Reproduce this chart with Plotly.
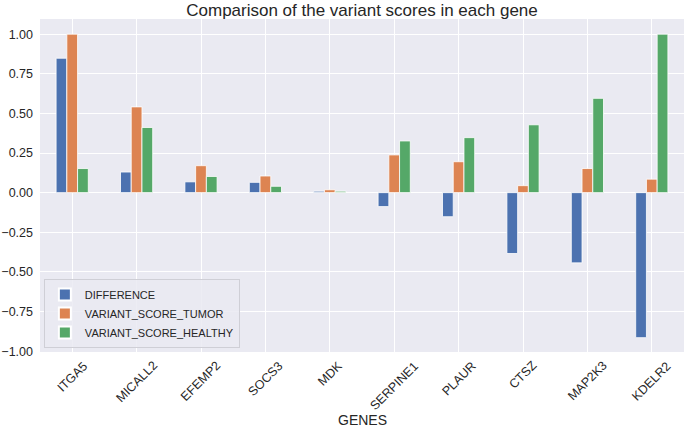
import plotly.graph_objects as go

genes = ["ITGA5", "MICALL2", "EFEMP2", "SOCS3", "MDK", "SERPINE1", "PLAUR", "CTSZ", "MAP2K3", "KDELR2"]
difference = [0.848, 0.130, 0.068, 0.065, 0.009, -0.088, -0.152, -0.384, -0.443, -0.915]
tumor = [1.000, 0.541, 0.170, 0.105, 0.018, 0.238, 0.195, 0.044, 0.152, 0.085]
healthy = [0.152, 0.411, 0.102, 0.040, 0.009, 0.326, 0.347, 0.428, 0.595, 1.000]

series_names = ["DIFFERENCE", "VARIANT_SCORE_TUMOR", "VARIANT_SCORE_HEALTHY"]
series_values = [difference, tumor, healthy]
colors = ["#4C72B0", "#DD8452", "#55A868"]
y_ticks = [-1.0, -0.75, -0.5, -0.25, 0.0, 0.25, 0.5, 0.75, 1.0]

FONT = "Liberation Sans, Arial, Helvetica, sans-serif"
TXT = "#262626"

fig = go.Figure()
for name, vals, col in zip(series_names, series_values, colors):
    fig.add_trace(go.Bar(
        x=list(range(len(genes))), y=vals, name=name,
        marker=dict(color=col, line=dict(color="white", width=0.8)),
    ))

for i, g in enumerate(genes):
    fig.add_annotation(
        x=i, xref="x", y=0, yref="paper", yshift=-4,
        text=g, showarrow=False, textangle=-45,
        xanchor="center", yanchor="top",
        font=dict(family=FONT, size=12.5, color=TXT),
    )

fig.add_annotation(
    x=0.5, xref="paper", y=0, yref="paper", yshift=-58,
    text="GENES", showarrow=False, xanchor="center", yanchor="top",
    font=dict(family=FONT, size=14, color=TXT),
)

fig.update_layout(
    width=685, height=427,
    margin=dict(l=40, r=1, t=19, b=75, autoexpand=False),
    paper_bgcolor="white", plot_bgcolor="#EAEAF2",
    barmode="group", bargap=0.5, bargroupgap=0,
    font=dict(family=FONT, size=12.5, color=TXT),
    title=dict(text="Comparison of the variant scores in each gene",
               x=0.5, xref="paper", xanchor="center",
               y=1 - 10 / 427, yref="container", yanchor="middle",
               font=dict(family=FONT, size=17, color=TXT)),
    showlegend=True,
    legend=dict(x=0.006, y=0.012, xanchor="left", yanchor="bottom",
                bgcolor="rgba(234,234,242,0.85)", bordercolor="#CFCFD6", borderwidth=1,
                font=dict(family=FONT, size=11, color=TXT),
                tracegroupgap=0, itemsizing="constant"),
)
fig.update_xaxes(
    range=[-0.5, 9.5], tickvals=list(range(len(genes))), showticklabels=False,
    showgrid=True, gridcolor="white", gridwidth=1, zeroline=False, showline=False,
    ticks="", automargin=False,
)
fig.update_yaxes(
    range=[-1.0055, 1.0955], tickvals=y_ticks, tickformat=".2f",
    showgrid=True, gridcolor="white", gridwidth=1, zeroline=False, showline=False,
    ticks="", ticklabelstandoff=6, automargin=False,
    tickfont=dict(family=FONT, size=12.5, color=TXT),
)
fig.write_html(
    "out.html",
    config={"displayModeBar": False},
    post_script="document.body.style.margin='0';document.body.style.overflow='hidden';",
)
